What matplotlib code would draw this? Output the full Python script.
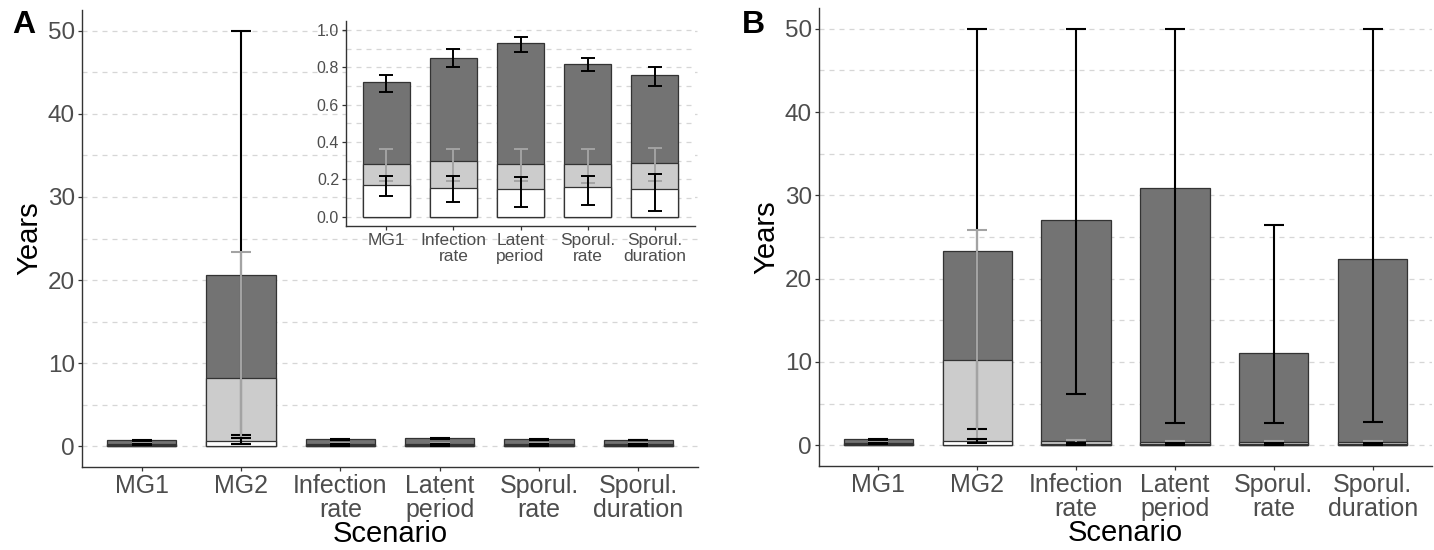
import matplotlib
matplotlib.use("Agg")
import matplotlib.pyplot as plt
from matplotlib.ticker import MultipleLocator
import numpy as np

plt.rcParams['font.family'] = ['Liberation Sans', 'DejaVu Sans']

scenarios = ["MG1", "MG2", "Infection\nrate", "Latent\nperiod", "Sporul.\nrate", "Sporul.\nduration"]

# Panel A
a_total = [0.72, 20.6, 0.85, 0.93, 0.82, 0.76]
a_total_lo = [0.67, 1.4, 0.80, 0.88, 0.78, 0.70]
a_total_hi = [0.76, 50.0, 0.90, 0.96, 0.85, 0.80]
a_mid = [0.28, 8.2, 0.30, 0.28, 0.28, 0.29]
a_mid_lo = [0.19, 0.3, 0.19, 0.19, 0.18, 0.19]
a_mid_hi = [0.36, 23.4, 0.36, 0.36, 0.36, 0.37]
a_low = [0.17, 0.6, 0.155, 0.146, 0.157, 0.146]
a_low_lo = [0.11, 0.3, 0.08, 0.05, 0.06, 0.03]
a_low_hi = [0.22, 1.0, 0.22, 0.21, 0.22, 0.23]

# Panel B
b_total = [0.72, 23.3, 27.0, 30.9, 11.1, 22.4]
b_total_lo = [0.67, 2.0, 6.1, 2.7, 2.7, 2.8]
b_total_hi = [0.76, 50.0, 50.0, 50.0, 26.4, 50.0]
b_mid = [0.28, 10.2, 0.45, 0.35, 0.35, 0.35]
b_mid_lo = [0.19, 0.3, 0.2, 0.2, 0.2, 0.2]
b_mid_hi = [0.36, 25.9, 0.6, 0.5, 0.5, 0.5]
b_low = [0.17, 0.5, 0.2, 0.15, 0.15, 0.15]
b_low_lo = [0.11, 0.3, 0.08, 0.05, 0.06, 0.03]
b_low_hi = [0.22, 0.8, 0.22, 0.21, 0.22, 0.23]

inset_idx = [0, 2, 3, 4, 5]

DARK = "#737373"
LIGHT = "#CCCCCC"
EDGE = "#333333"
GRAYERR = "#A3A3A3"
TICKC = "#4D4D4D"

W, H = 1434, 550
fig = plt.figure(figsize=(W / 100, H / 100), dpi=100)


def px_axes(l, r, t, b):
    return fig.add_axes([l / W, 1 - b / H, (r - l) / W, (b - t) / H])


def draw(ax, labels, tot, tlo, thi, mid, mlo, mhi, low, llo, lhi,
         major, minor, ylim, fs_x, fs_y, lw_err, cap, ls):
    x = np.arange(len(labels))
    for vals, col in ((tot, DARK), (mid, LIGHT), (low, "white")):
        ax.bar(x, vals, width=0.7, color=col, edgecolor=EDGE, linewidth=0.9, zorder=3)
    for v, lo, hi, col in ((tot, tlo, thi, "black"), (mid, mlo, mhi, GRAYERR),
                           (low, llo, lhi, "black")):
        v = np.array(v); lo = np.array(lo); hi = np.array(hi)
        ax.errorbar(x, v, yerr=[v - lo, hi - v], fmt="none", ecolor=col,
                    elinewidth=lw_err, capsize=cap, capthick=lw_err, zorder=4)
    ax.set_xlim(-0.6, len(labels) - 0.4)
    ax.set_ylim(*ylim)
    ax.set_xticks(x)
    ax.set_xticklabels(labels, fontsize=fs_x, color=TICKC, linespacing=ls)
    ax.yaxis.set_major_locator(MultipleLocator(major))
    ax.yaxis.set_minor_locator(MultipleLocator(minor))
    ax.grid(axis="y", which="both", color="#D6D6D6", linestyle=(0, (4, 4)),
            linewidth=0.9, zorder=0)
    ax.set_axisbelow(True)
    for s in ("top", "right"):
        ax.spines[s].set_visible(False)
    for s in ("left", "bottom"):
        ax.spines[s].set_color(EDGE)
        ax.spines[s].set_linewidth(1.0)
    ax.tick_params(axis="both", which="major", length=3, width=0.9, color=EDGE,
                   labelcolor=TICKC, pad=2)
    ax.tick_params(axis="y", which="major", labelsize=fs_y)
    ax.tick_params(axis="y", which="minor", length=0)


axA = px_axes(82, 698, 10, 467)
draw(axA, scenarios, a_total, a_total_lo, a_total_hi, a_mid, a_mid_lo, a_mid_hi,
     a_low, a_low_lo, a_low_hi, 10, 5, (-2.5, 52.5), 18, 17.5, 1.5, 7.2, 1.02)
axA.set_ylabel("Years", fontsize=21, labelpad=3)
axA.set_xlabel("Scenario", fontsize=21, labelpad=-2)

axB = px_axes(819, 1432, 8, 466)
draw(axB, scenarios, b_total, b_total_lo, b_total_hi, b_mid, b_mid_lo, b_mid_hi,
     b_low, b_low_lo, b_low_hi, 10, 5, (-2.5, 52.5), 18, 17.5, 1.5, 7.2, 1.02)
axB.set_ylabel("Years", fontsize=21, labelpad=3)
axB.set_xlabel("Scenario", fontsize=21, labelpad=-2)

# Inset
axI = px_axes(346, 695, 20.6, 226)
axI.set_facecolor("white")
sel = lambda arr: [arr[i] for i in inset_idx]
draw(axI, sel(scenarios), sel(a_total), sel(a_total_lo), sel(a_total_hi),
     sel(a_mid), sel(a_mid_lo), sel(a_mid_hi), sel(a_low), sel(a_low_lo), sel(a_low_hi),
     0.2, 0.1, (-0.05, 1.05), 12.5, 11.5, 1.4, 5, 1.12)
axI.set_yticks(np.arange(0, 1.01, 0.2))
axI.set_yticklabels([f"{v:.1f}" for v in np.arange(0, 1.01, 0.2)])
axI.set_ylim(-0.05, 1.05)

fig.text(12 / W, 1 - 10 / H, "A", fontsize=23, fontweight="bold", va="top", ha="left")
fig.text(742 / W, 1 - 10 / H, "B", fontsize=23, fontweight="bold", va="top", ha="left")

fig.savefig("out.png", dpi=100, facecolor="white")
